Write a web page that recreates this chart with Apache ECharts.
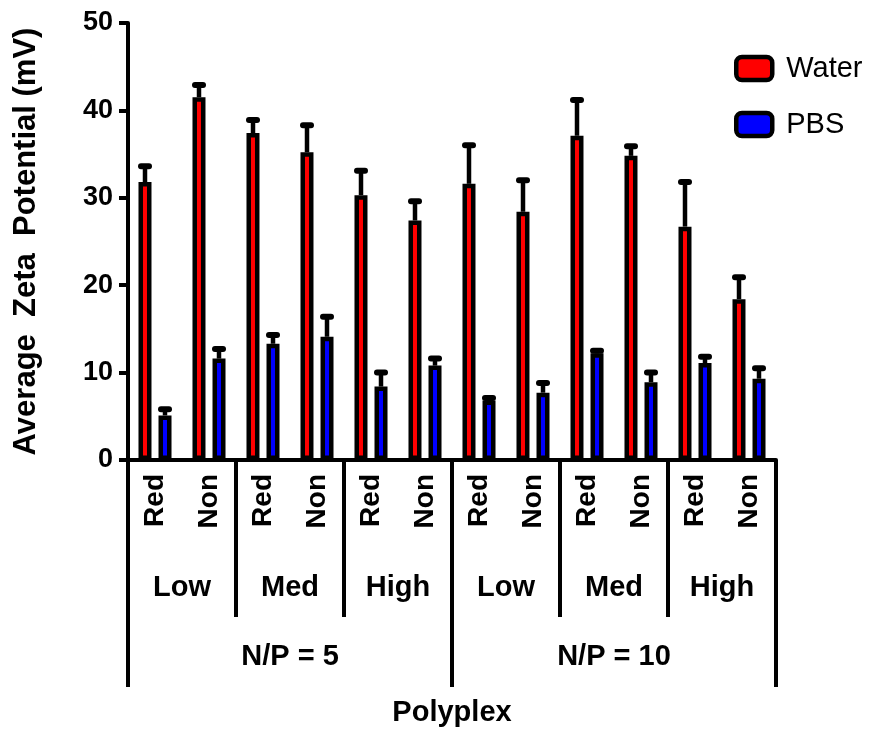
<!DOCTYPE html>
<html lang="en">
<head>
    <meta charset="UTF-8" />
    <title>Average Zeta Potential</title>
</head>
<body style="margin:0">
<div id="main" style="width: 876px; height: 734px"></div>
<script src="https://cdn.jsdelivr.net/npm/echarts@6/dist/echarts.min.js"></script>
<script>
  // data
  var categories = ["Red", "Non", "Red", "Non", "Red", "Non", "Red", "Non", "Red", "Non", "Red", "Non"];
  var groups = ["Low", "Med", "High", "Low", "Med", "High"];
  var ratios = ["N/P = 5", "N/P = 10"];
  var water = [31.8, 41.5, 37.4, 35.2, 30.3, 27.4, 31.6, 28.4, 37.1, 34.8, 26.7, 18.4];
  var waterErr = [1.8, 1.4, 1.5, 3.1, 2.8, 2.2, 4.4, 3.6, 4.1, 1.1, 5.1, 2.5];
  var pbs = [5.1, 11.6, 13.3, 14.1, 8.4, 10.8, 6.8, 7.7, 12.2, 8.9, 11.1, 9.3];
  var pbsErr = [0.7, 1.1, 1.0, 2.3, 1.6, 0.8, 0.3, 1.1, 0.3, 1.1, 0.7, 1.2];

  var font = "Liberation Sans, Arial, sans-serif";
  var myChart = echarts.init(document.getElementById("main"));

  // only the upper half of the error bar, like the original
  function errorBar(offset) {
    return function (params, api) {
      var i = api.value(0);
      var base = api.coord([i, api.value(1)]);
      var hi = api.coord([i, api.value(1) + api.value(2)]);
      var x = base[0] + offset;
      return {
        type: "group",
        children: [
          { type: "line", shape: { x1: x, y1: base[1], x2: x, y2: hi[1] }, style: { stroke: "#000", lineWidth: 4.5 } },
          { type: "line", shape: { x1: x - 4, y1: hi[1], x2: x + 4, y2: hi[1] }, style: { stroke: "#000", lineWidth: 6, lineCap: "round" } }
        ]
      };
    };
  }

  function withIndex(vals, errs) {
    return vals.map(function (v, i) { return [i, v, errs[i]]; });
  }

  var option = {
    animation: false,
    backgroundColor: "#fff",
    textStyle: { fontFamily: font },
    grid: { left: 128, right: 100, top: 23, bottom: 274, outerBoundsMode: "none", containLabel: false },
    legend: {
      data: ["Water", "PBS"],
      orient: "vertical",
      left: 729,
      top: 49,
      icon: "roundRect",
      itemWidth: 36,
      itemHeight: 23,
      itemGap: 27,
      itemStyle: { borderColor: "#000", borderWidth: 4.5 },
      textStyle: { fontSize: 29, color: "#000", fontFamily: font, padding: [0, 0, 0, 9] }
    },
    yAxis: {
      type: "value",
      min: 0,
      max: 50,
      interval: 10,
      name: "Average  Zeta  Potential (mV)",
      nameLocation: "middle",
      nameGap: 86,
      nameTextStyle: { fontSize: 31, fontWeight: "bold", color: "#000", fontFamily: font },
      axisLine: { show: true, lineStyle: { color: "#000", width: 4 } },
      axisTick: { show: true, length: 9, lineStyle: { color: "#000", width: 4 } },
      axisLabel: { fontSize: 27, fontWeight: "bold", color: "#000", margin: 15, fontFamily: font },
      splitLine: { show: false }
    },
    xAxis: [
      {
        type: "category",
        data: categories,
        position: "bottom",
        axisLine: { lineStyle: { color: "#000", width: 4 } },
        axisTick: { alignWithLabel: true, length: 10, lineStyle: { color: "#000", width: 4 } },
        axisLabel: { rotate: 90, interval: 0, fontSize: 28, fontWeight: "bold", color: "#000", margin: 14, fontFamily: font }
      },
      {
        type: "category",
        data: groups,
        position: "bottom",
        axisLine: { show: false },
        axisTick: { show: true, interval: 0, length: 157, lineStyle: { color: "#000", width: 4 } },
        axisLabel: { interval: 0, fontSize: 29, fontWeight: "bold", color: "#000", margin: 128, verticalAlign: "middle", fontFamily: font }
      },
      {
        type: "category",
        data: ratios,
        position: "bottom",
        name: "Polyplex",
        nameLocation: "middle",
        nameGap: 253,
        nameTextStyle: { fontSize: 29, fontWeight: "bold", color: "#000", verticalAlign: "middle", fontFamily: font },
        axisLine: { show: false },
        axisTick: { show: true, interval: 0, length: 227, lineStyle: { color: "#000", width: 4 } },
        axisLabel: { interval: 0, fontSize: 29, fontWeight: "bold", color: "#000", margin: 197, verticalAlign: "middle", fontFamily: font }
      }
    ],
    series: [
      {
        name: "Water",
        type: "bar",
        data: water,
        barWidth: 13,
        barGap: "54%",
        itemStyle: { color: "#ff0000", borderColor: "#000", borderWidth: 4.5 }
      },
      {
        name: "PBS",
        type: "bar",
        data: pbs,
        barWidth: 13,
        itemStyle: { color: "#0000ff", borderColor: "#000", borderWidth: 4.5 }
      },
      {
        type: "custom",
        renderItem: errorBar(-10),
        data: withIndex(water, waterErr),
        z: 5
      },
      {
        type: "custom",
        renderItem: errorBar(10),
        data: withIndex(pbs, pbsErr),
        z: 5
      }
    ]
  };
  myChart.setOption(option);
</script>
</body>
</html>
